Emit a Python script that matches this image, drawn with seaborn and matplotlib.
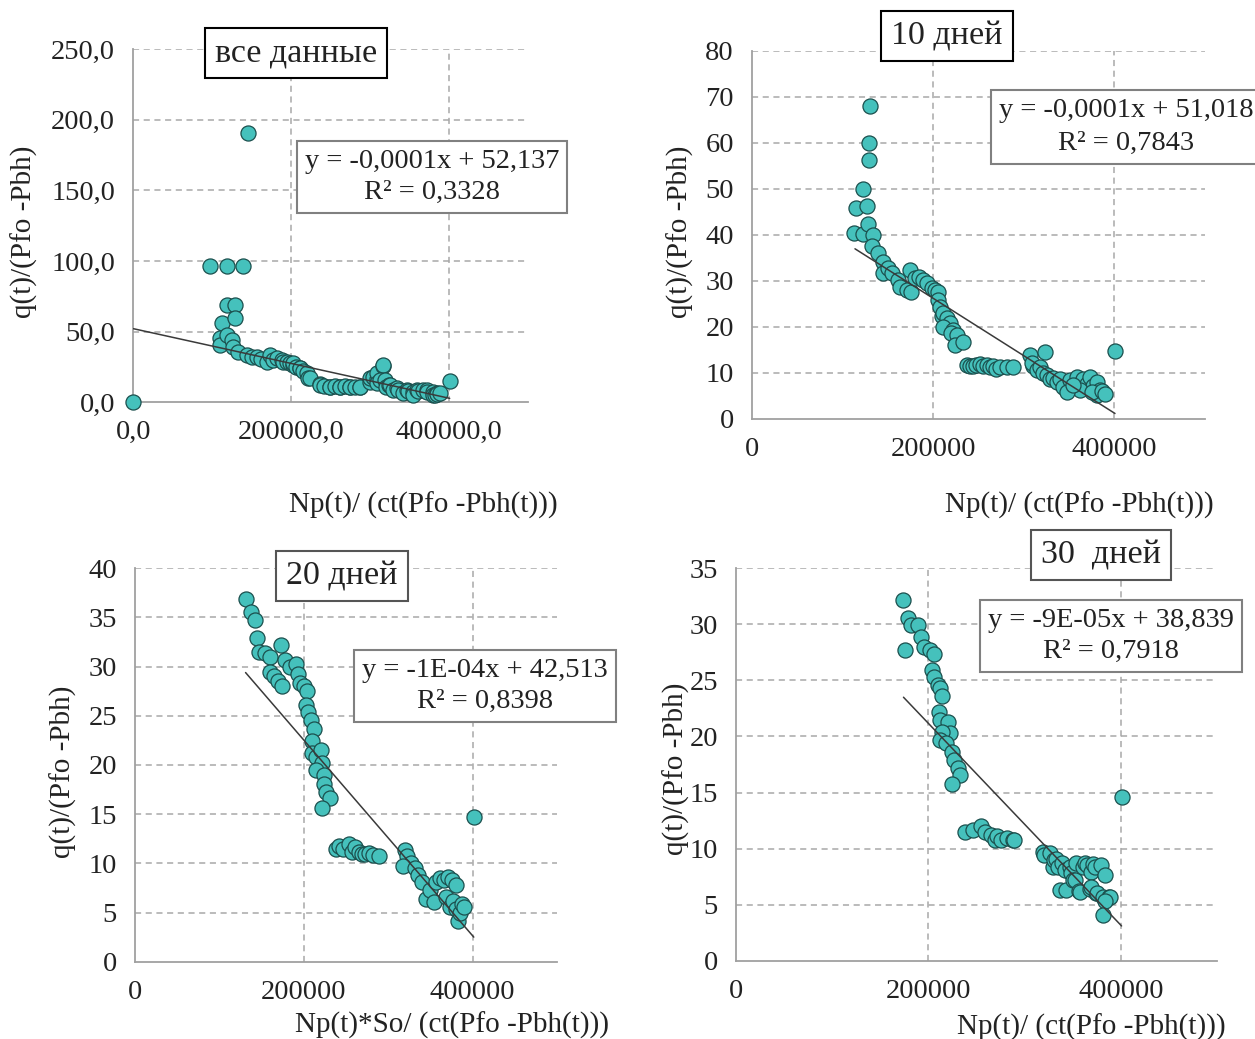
import matplotlib
matplotlib.use("Agg")
import matplotlib.pyplot as plt
import seaborn as sns
from matplotlib.ticker import FixedLocator, FuncFormatter

sns.set_theme(style="white")
plt.rcParams['font.family'] = ['Liberation Serif', 'DejaVu Serif']

# ---------------- data ----------------
# Panel 1: "все данные"
all_x = [0, 97100, 118200, 139300, 145600, 111900, 118200, 128800, 128800, 109800,
         109800, 118200, 124500, 126600, 133000, 143500, 150000, 156200, 162000, 168800,
         173100, 177200, 181400, 188000, 189900, 194100, 198000, 202500, 202600, 206000,
         210900, 211000, 215000, 219300, 221600, 223500, 236100, 236400, 242000, 248800,
         249000, 255000, 261400, 261700, 268000, 274100, 274300, 280000, 286700, 287000,
         299400, 299700, 303600, 308000, 308100, 308100, 316200, 316500, 312000, 318600,
         320500, 324000, 325000, 328900, 333400, 335000, 341500, 346100, 348000, 354200,
         354600, 358700, 360000, 366800, 371400, 372000, 379500, 379900, 381600, 384100,
         385000, 387900, 400500]
all_y = [0, 96.4, 96.4, 96.4, 190.5, 55.9, 68.8, 68.8, 59.4, 45.3,
         40.5, 47.6, 44.1, 39.4, 35.9, 33.5, 32.0, 32.4, 30.5, 28.8,
         33.5, 29.9, 31.2, 30.0, 28.7, 28.8, 28.0, 26.4, 27.6, 25.0,
         24.1, 24.0, 22.0, 20.5, 17.0, 17.0, 12.9, 12.2, 11.5, 11.0,
         11.0, 11.2, 11.0, 11.0, 11.3, 11.0, 11.0, 11.1, 11.0, 10.6,
         14.6, 17.0, 18.1, 16.5, 20.5, 13.5, 25.7, 26.4, 15.8, 15.8,
         11.0, 12.0, 12.2, 8.6, 9.9, 9.0, 6.3, 8.8, 8.0, 7.5,
         5.3, 8.8, 8.2, 8.6, 8.8, 7.0, 7.5, 5.3, 5.1, 6.4,
         6.0, 6.3, 15.3]
all_trend_x = [0, 400500]
all_trend_y = [52.1, 2.8]

# Panel 2: "10 дней"
d10_x = [130400, 129600, 129600, 123000, 115000, 127400, 112700, 122300, 128500, 133300,
         132500, 139600, 144400, 144400, 150000, 154400, 161700, 163500, 170900, 174600,
         176000, 180100, 185000, 189300, 193000, 198600, 202000, 205900, 205000, 207700,
         210000, 211400, 215100, 218800, 211400, 222500, 220000, 226200, 224300, 233500,
         237300, 241000, 244600, 248000, 251900, 255500, 259400, 263000, 266600, 270000,
         274000, 281400, 288800, 307200, 310000, 323800, 308900, 314400, 318000, 321800,
         325500, 329300, 333000, 336600, 340300, 344000, 351400, 358800, 366200, 369800,
         373500, 377200, 380900, 384600, 380900, 362500, 347700, 355100, 376000, 387000,
         390100, 401100]
d10_y = [68.0, 60.1, 56.3, 50.1, 45.8, 46.2, 40.5, 40.3, 42.4, 40.0,
         37.5, 36.0, 34.2, 31.7, 32.8, 31.7, 30.2, 28.8, 28.0, 32.4,
         27.5, 30.6, 30.8, 30.2, 29.5, 28.5, 28.0, 27.7, 25.9, 24.4,
         22.5, 23.0, 21.9, 20.8, 20.1, 19.3, 18.8, 18.3, 16.1, 16.8,
         11.7, 11.5, 11.6, 11.8, 12.0, 11.6, 11.7, 11.2, 11.5, 10.8,
         11.3, 11.3, 11.3, 13.9, 11.5, 14.6, 12.1, 10.7, 11.2, 10.0,
         9.5, 8.8, 9.0, 8.1, 8.6, 7.0, 8.4, 9.1, 8.8, 7.6,
         9.1, 7.2, 8.1, 6.3, 5.2, 6.3, 5.9, 7.4, 5.8, 6.0,
         5.5, 14.8]
d10_trend_x = [113800, 401100]
d10_trend_y = [37.0, 1.2]

# Panel 3: "20 дней"
d20_x = [131000, 137100, 141700, 144100, 146400, 154400, 160500, 173100, 160500, 165100,
         169800, 174500, 177800, 183800, 190900, 193200, 195500, 200200, 204000, 202600,
         204900, 208600, 211900, 209600, 209600, 214300, 219900, 221300, 214300, 223600,
         224500, 226000, 230600, 221300, 237600, 242000, 247000, 254000, 257500, 261000,
         265700, 269000, 272700, 277000, 282100, 289100, 319500, 321900, 326500, 317200,
         331200, 335900, 340600, 345200, 349900, 354600, 356900, 361600, 366300, 371000,
         375700, 380300, 368600, 373300, 377000, 380300, 382700, 384500, 387300, 389700,
         401400]
d20_y = [36.9, 35.6, 34.7, 32.9, 31.5, 31.4, 31.0, 32.2, 29.5, 29.0,
         28.5, 28.0, 30.7, 30.0, 30.3, 29.3, 28.3, 28.0, 27.5, 26.1,
         25.4, 24.6, 23.7, 22.4, 21.2, 20.8, 21.5, 20.2, 19.5, 19.0,
         18.1, 17.3, 16.6, 15.6, 11.5, 11.8, 11.5, 12.0, 11.2, 11.7,
         11.2, 10.9, 11.0, 11.1, 10.8, 10.7, 11.4, 10.7, 10.0, 9.7,
         9.5, 8.8, 8.1, 6.4, 7.3, 6.1, 8.1, 8.5, 8.3, 8.6,
         8.3, 7.8, 6.6, 5.6, 6.2, 5.4, 4.1, 5.0, 5.9, 5.6,
         14.7]
d20_trend_x = [131000, 401400]
d20_trend_y = [29.4, 2.5]

# Panel 4: "30 дней"
d30_x = [174100, 179000, 181400, 175300, 189600, 192800, 195700, 201800, 205900, 203900,
         205900, 210000, 212000, 214000, 210800, 212000, 220200, 222200, 214000, 212000,
         218100, 224200, 226300, 230400, 232400, 224200, 238500, 246700, 254800, 258900,
         265000, 269100, 270900, 275200, 281300, 288100, 289500, 319300, 320000, 326200,
         329600, 330300, 333100, 334300, 338400, 342500, 336300, 343300, 346900, 348600,
         350300, 352700, 353800, 356700, 357200, 360800, 362500, 364900, 367600, 369000,
         371100, 373000, 374500, 379200, 383200, 369000, 375100, 381200, 387300, 388300,
         383200, 381200, 400800]
d30_y = [32.2, 30.6, 29.9, 27.7, 29.9, 28.9, 28.0, 27.7, 27.4, 25.9,
         25.3, 24.6, 24.3, 23.6, 22.2, 21.5, 21.3, 20.3, 20.4, 19.7,
         19.4, 18.6, 17.9, 17.2, 16.6, 15.8, 11.5, 11.7, 12.0, 11.5,
         11.2, 10.8, 11.1, 10.8, 10.9, 10.8, 10.8, 9.7, 9.4, 9.6,
         8.4, 9.0, 9.1, 8.4, 8.7, 8.1, 6.3, 6.3, 8.4, 7.8,
         7.2, 7.2, 8.7, 6.2, 6.1, 8.4, 8.7, 8.5, 6.4, 7.9,
         8.6, 8.4, 6.0, 8.5, 7.6, 6.6, 6.0, 5.7, 5.7, 5.7,
         5.3, 4.1, 14.6]
d30_trend_x = [174100, 400800]
d30_trend_y = [23.5, 3.1]

x_ticks = [0, 200000, 400000]
y_ticks_all = [0, 50, 100, 150, 200, 250]
y_ticks_10 = [0, 10, 20, 30, 40, 50, 60, 70, 80]
y_ticks_20 = [0, 5, 10, 15, 20, 25, 30, 35, 40]
y_ticks_30 = [0, 5, 10, 15, 20, 25, 30, 35]

titles = ["все данные", "10 дней", "20 дней", "30  дней"]
equations = ["y = -0,0001x + 52,137\nR² = 0,3328",
             "y = -0,0001x + 51,018\nR² = 0,7843",
             "y = -1E-04x + 42,513\nR² = 0,8398",
             "y = -9E-05x + 38,839\nR² = 0,7918"]
x_labels = ["Np(t)/ (ct(Pfo -Pbh(t)))", "Np(t)/ (ct(Pfo -Pbh(t)))",
            "Np(t)*So/ (ct(Pfo -Pbh(t)))", "Np(t)/ (ct(Pfo -Pbh(t)))"]
y_label = "q(t)/(Pfo -Pbh)"

# ---------------- styling ----------------
W, H = 1255, 1039
fig = plt.figure(figsize=(W / 100, H / 100), dpi=100)
fig.patch.set_facecolor("white")

FACE = "#45C1BC"
EDGE = "#1B4F4D"
AXC = "#A0A0A0"
GRIDC = "#A8A8A8"
TXT = "#222222"

def frac(px, py):
    return px / W, 1 - py / H

# axes boxes in pixels: (left, top, right, bottom)
boxes = [(133.3, 49, 528.3, 402.3),
         (752, 51, 1204.5, 419),
         (135, 568.3, 557, 961.7),
         (736, 568.3, 1217, 960.7)]

panels = [
    (all_x, all_y, all_trend_x, all_trend_y, y_ticks_all, True),
    (d10_x, d10_y, d10_trend_x, d10_trend_y, y_ticks_10, False),
    (d20_x, d20_y, d20_trend_x, d20_trend_y, y_ticks_20, False),
    (d30_x, d30_y, d30_trend_x, d30_trend_y, y_ticks_30, False),
]

comma1 = FuncFormatter(lambda v, p: f"{v:.1f}".replace(".", ","))
intfmt = FuncFormatter(lambda v, p: f"{int(round(v))}")

for (l, t, r, b), (xs, ys, tx, ty, yt, dec) in zip(boxes, panels):
    ax = fig.add_axes([l / W, 1 - b / H, (r - l) / W, (b - t) / H])
    ax.set_facecolor("white")
    ax.set_xlim(0, 500000)
    ax.set_ylim(0, yt[-1])
    ax.xaxis.set_major_locator(FixedLocator(x_ticks))
    ax.yaxis.set_major_locator(FixedLocator(yt))
    ax.xaxis.set_major_formatter(comma1 if dec else intfmt)
    ax.yaxis.set_major_formatter(comma1 if dec else intfmt)
    for v in yt[1:]:
        ax.axhline(v, color=GRIDC, lw=1.1, ls=(0, (4, 3)), zorder=1)
    for v in x_ticks[1:]:
        ax.axvline(v, color=GRIDC, lw=1.1, ls=(0, (4, 3)), zorder=1)
    for s in ["top", "right"]:
        ax.spines[s].set_visible(False)
    for s in ["left", "bottom"]:
        ax.spines[s].set_color(AXC)
        ax.spines[s].set_linewidth(1.3)
    ax.tick_params(axis="both", which="major", direction="out", length=6,
                   width=1.2, color=AXC, labelsize=20.5, labelcolor=TXT, pad=7)
    sns.scatterplot(x=xs, y=ys, ax=ax, s=118, color=FACE, edgecolor=EDGE,
                    linewidth=0.9, clip_on=False, zorder=3, legend=False)
    sns.lineplot(x=tx, y=ty, ax=ax, color="#3A3A3A", linewidth=1.1, zorder=4)
    ax.set_xlabel("")
    ax.set_ylabel("")

# ---------------- text ----------------
title_pos = [(296, 53, "black"), (947, 36, "black"), (342, 576, "#555555"), (1101, 555, "#555555")]
eq_pos = [(432, 177), (1126, 127), (485, 686), (1111, 636)]
xl_pos = [(423, 505), (1079, 505), (452, 1025), (1091, 1027)]
yl_pos = [(24, 232), (680, 232), (63, 772), (676, 769)]

for i in range(4):
    tx_, ty_, ec = title_pos[i]
    fig.text(*frac(tx_, ty_), titles[i], ha="center", va="center", fontsize=24.5, color=TXT,
             bbox=dict(boxstyle="square,pad=0.3", fc="white", ec=ec, lw=1.5), zorder=10)
    ex, ey = eq_pos[i]
    fig.text(*frac(ex, ey), equations[i], ha="center", va="center", fontsize=20.5, color=TXT,
             multialignment="center", linespacing=1.3 if i != 1 else 1.45,
             bbox=dict(boxstyle="square,pad=0.28", fc="white", ec="#808080", lw=1.5), zorder=10)
    xx, xy = xl_pos[i]
    fig.text(*frac(xx, xy), x_labels[i], ha="center", va="center", fontsize=21, color=TXT)
    yx, yy = yl_pos[i]
    fig.text(*frac(yx, yy), y_label, ha="center", va="center", fontsize=21, color=TXT,
             rotation=90)

fig.savefig("out.png", dpi=100, facecolor="white")
